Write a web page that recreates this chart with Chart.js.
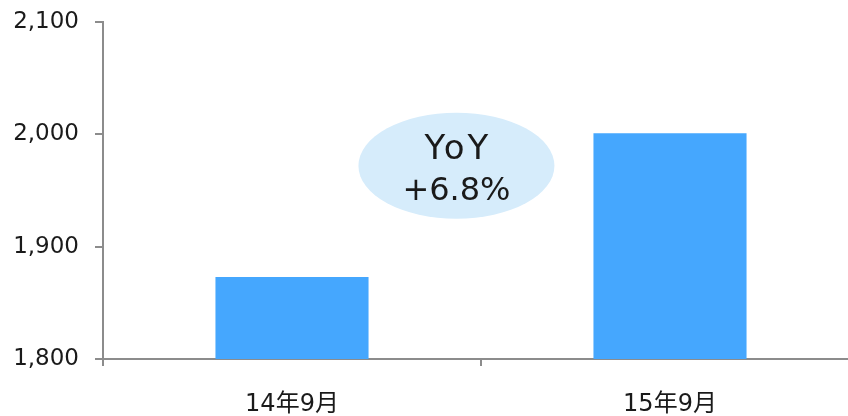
<!DOCTYPE html>
<html>
<head>
<meta charset="utf-8">
<script src="https://cdn.jsdelivr.net/npm/chart.js@4"></script>
<style>
  html, body { margin: 0; padding: 0; background: #fff; overflow: hidden; }
  #wrap { position: absolute; left: 0; top: 0; width: 860px; height: 416px; }
</style>
</head>
<body>
<div id="wrap"><canvas id="grafico" width="860" height="416"></canvas></div>
<script>
// Dados
const categorias = ['14年9月', '15年9月']
const valores = [1873, 2001]
const yTicks = [1800, 1900, 2000, 2100]

// Balão YoY (posição em unidades das escalas)
const balaoTexto = ['YoY', '+6.8%']
const balaoX = 0.435
const balaoY = 1972

const fonte = "'DejaVu Sans', 'Noto Sans CJK JP', sans-serif"
const cinza = '#8c8c8c'

// Desenha a elipse com o texto
const balaoPlugin = {
    id: 'balao',
    afterDatasetsDraw(chart) {
        const ctx = chart.ctx
        const cx = chart.scales.x.getPixelForValue(balaoX)
        const cy = chart.scales.y.getPixelForValue(balaoY)
        ctx.save()
        ctx.beginPath()
        ctx.ellipse(cx, cy, 98, 53, 0, 0, Math.PI * 2)
        ctx.fillStyle = '#d6ecfb'
        ctx.fill()
        ctx.fillStyle = '#1a1a1a'
        ctx.textAlign = 'center'
        ctx.textBaseline = 'middle'
        ctx.font = '34px ' + fonte
        ctx.letterSpacing = '3px'
        ctx.fillText(balaoTexto[0], cx + 1.5, cy - 16)
        ctx.font = '32px ' + fonte
        ctx.letterSpacing = '0px'
        ctx.fillText(balaoTexto[1], cx, cy + 26)
        ctx.restore()
    }
}

let ctxGrafico = document.getElementById('grafico')
let grafico = new Chart(ctxGrafico, {
    type: 'bar',
    data: {
        labels: categorias,
        datasets: [{
            data: valores,
            backgroundColor: '#45a7fe',
            barPercentage: 0.405,
            categoryPercentage: 1
        }]
    },
    options: {
        responsive: false,
        animation: false,
        layout: { padding: { top: 22, right: 1, left: 0, bottom: 0 } },
        plugins: { legend: { display: false }, tooltip: { enabled: false } },
        scales: {
            x: {
                grid: { offset: true, drawOnChartArea: false, drawTicks: true, tickLength: 7, color: cinza, lineWidth: 2 },
                border: { color: cinza, width: 2 },
                ticks: { font: { family: fonte, size: 24 }, color: '#1a1a1a', padding: 24 },
                afterFit(scale) {
                    scale.height = 57
                    scale.paddingLeft = 0
                    scale.paddingRight = 0
                }
            },
            y: {
                min: 1800,
                max: 2100,
                afterBuildTicks(scale) { scale.ticks = yTicks.map(v => ({ value: v })) },
                grid: { drawOnChartArea: false, drawTicks: true, tickLength: 8, color: cinza, lineWidth: 2 },
                border: { color: cinza, width: 2 },
                ticks: {
                    font: { family: fonte, size: 23 },
                    color: '#1a1a1a',
                    padding: 16,
                    callback: v => v.toLocaleString('en-US')
                },
                afterFit(scale) {
                    scale.width = 103
                    scale.paddingTop = 0
                    scale.paddingBottom = 0
                }
            }
        }
    },
    plugins: [balaoPlugin]
})
</script>
</body>
</html>
